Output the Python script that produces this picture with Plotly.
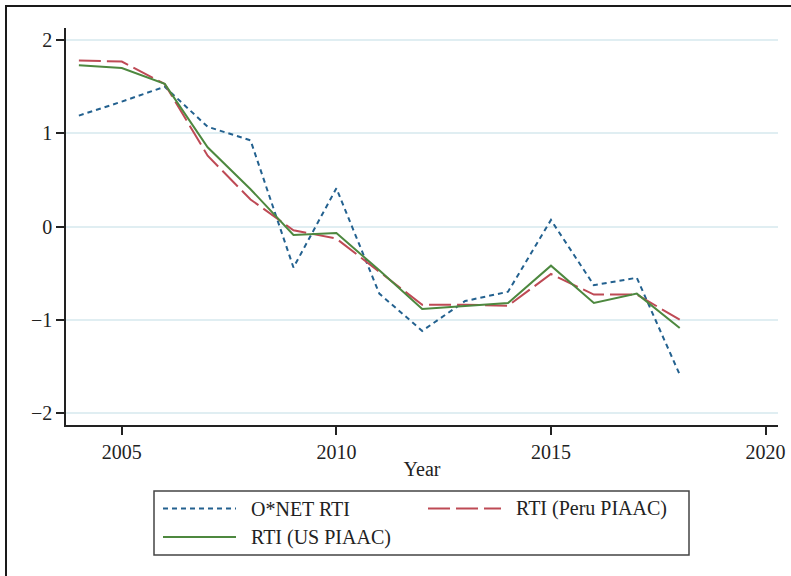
import plotly.graph_objects as go

# Annual routine-task-intensity indices
years = list(range(2004, 2019))
onet_rti = [1.19, 1.34, 1.50, 1.07, 0.925, -0.44, 0.41, -0.72, -1.12, -0.80, -0.70, 0.07, -0.63, -0.55, -1.59]
peru_rti = [1.78, 1.77, 1.53, 0.76, 0.29, -0.04, -0.13, -0.49, -0.84, -0.84, -0.85, -0.51, -0.73, -0.73, -1.00]
us_rti = [1.73, 1.70, 1.53, 0.85, 0.40, -0.09, -0.07, -0.47, -0.885, -0.85, -0.82, -0.42, -0.82, -0.72, -1.09]

x_ticks = [2005, 2010, 2015, 2020]
y_ticks = [-2, -1, 0, 1, 2]

series_names = ["O*NET RTI", "RTI (Peru PIAAC)", "RTI (US PIAAC)"]
colors = ["#23618f", "#be4a55", "#4d883f"]
dashes = ["5px,4px", "22px,6px", "solid"]

W, H = 791, 576
L, R, T, B = 66, 13, 28, 151
PW, PH = W - L - R, H - T - B

FONT = "Liberation Serif"
TXT = "#222222"


def px(xp):
    return (xp - L) / PW


def py(yp):
    return (H - B - yp) / PH


fig = go.Figure()
for name, vals, col, dash in zip(series_names, [onet_rti, peru_rti, us_rti], colors, dashes):
    fig.add_trace(go.Scatter(
        x=years, y=vals, mode="lines", name=name,
        line=dict(color=col, width=2, dash=dash),
        showlegend=False,
    ))

shapes = []
annotations = []

# outer frame of the graph region
shapes.append(dict(type="rect", xref="paper", yref="paper",
                   x0=px(6), x1=px(810), y0=py(6), y1=py(600),
                   line=dict(color="#1a1a1a", width=2), layer="below"))

# legend box
shapes.append(dict(type="rect", xref="paper", yref="paper",
                   x0=px(154), x1=px(689), y0=py(491), y1=py(555),
                   line=dict(color="#444444", width=1.5)))

legend_items = [
    (0, 163, 236, 249, 508.5),
    (1, 428, 501, 514, 508.5),
    (2, 163, 236, 249, 537),
]
for idx, x0, x1, xt, yc in legend_items:
    shapes.append(dict(type="line", xref="paper", yref="paper",
                       x0=px(x0), x1=px(x1), y0=py(yc), y1=py(yc),
                       line=dict(color=colors[idx], width=2, dash=dashes[idx])))
    annotations.append(dict(text=series_names[idx], xref="paper", yref="paper",
                            x=px(xt), y=py(yc), xanchor="left", yanchor="middle",
                            showarrow=False, font=dict(family=FONT, size=20, color=TXT)))

fig.update_layout(
    width=W, height=H,
    margin=dict(l=L, r=R, t=T, b=B, pad=0, autoexpand=False),
    paper_bgcolor="white", plot_bgcolor="white",
    font=dict(family=FONT, size=20, color=TXT),
    shapes=shapes, annotations=annotations,
    showlegend=False,
)

fig.update_xaxes(
    range=[2003.7, 2020.29], tickvals=x_ticks, ticktext=[str(v) for v in x_ticks],
    showgrid=False, zeroline=False, automargin=False,
    showline=True, linecolor="#222222", linewidth=1.5,
    ticks="outside", ticklen=8, tickwidth=1.5, tickcolor="#222222",
    tickfont=dict(family=FONT, size=20, color=TXT),
    title=dict(text="Year", standoff=0, font=dict(family=FONT, size=20, color=TXT)),
)
fig.update_yaxes(
    range=[-2.13, 2.13], tickvals=y_ticks,
    showgrid=True, gridcolor="#e0eef2", gridwidth=1.5, zeroline=False, automargin=False,
    showline=True, linecolor="#222222", linewidth=1.5,
    ticks="outside", ticklen=8, tickwidth=1.5, tickcolor="#222222",
    tickfont=dict(family=FONT, size=20, color=TXT),
)

fig.write_html("out.html")
